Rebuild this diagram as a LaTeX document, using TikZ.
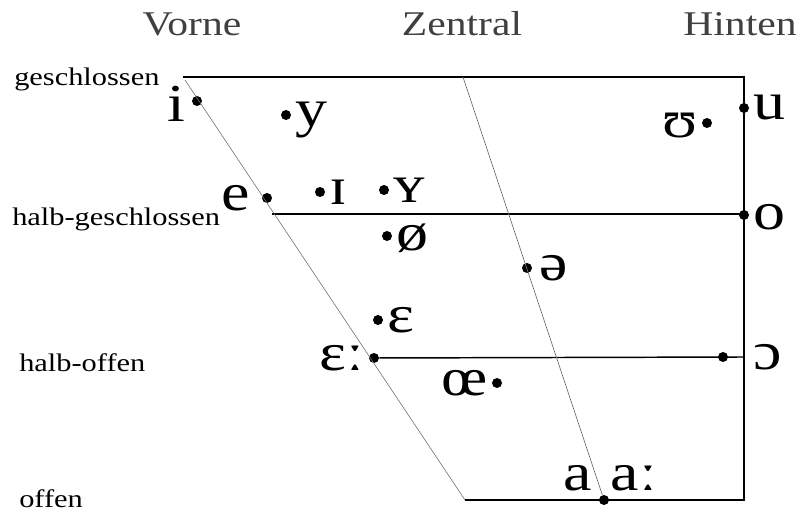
\documentclass[tikz,border=0pt]{standalone}
\usepackage{fontspec}
\setmainfont[FakeStretch=1.2]{Liberation Serif}
\usetikzlibrary{positioning}

\begin{document}
\begin{tikzpicture}[x=0.75pt, y=-0.75pt,
  dot/.style={circle, fill, inner sep=0pt, minimum size=7.5pt},
  vow/.style={font=\fontsize{40}{40}\selectfont, inner sep=0pt},
  col/.style={font=\fontsize{26}{26}\selectfont, text=black!75, anchor=base},
  row/.style={font=\fontsize{19}{19}\selectfont, anchor=base west, inner sep=0pt},
  frame/.style={line width=1.1pt},
  guide/.style={black!55, line width=0.5pt},
  node distance=4pt
]
  \useasboundingbox (0,0) rectangle (800,516);

  % corners of the trapezium
  \coordinate (tl) at (183,77);
  \coordinate (tr) at (744,77);
  \coordinate (dtop) at (185,80);
  \coordinate (bl) at (465,500);
  \coordinate (br) at (744,500);
  \coordinate (ctop) at (463,77);
  \coordinate (hgl) at (272,214);
  \coordinate (hgr) at (744,214);
  \coordinate (hor) at (744,357);

  % column and row headings
  \node[col] (vorne) at (192,36) {Vorne};
  \node[col] (zentral) at (462,36) {Zentral};
  \node[col] (hinten) at (740,36) {Hinten};
  \node[row] (geschl) at (14,86) {geschlossen};
  \node[row] (halbg) at (12,226) {halb-geschlossen};
  \node[row] (halbo) at (19,372) {halb-offen};
  \node[row] (offen) at (19,508) {offen};

  % vowel points
  \node[dot] (pi) at (197,101) {};
  \node[dot] (py) at (286,115) {};
  \node[dot] (pu) at (744,108) {};
  \node[dot] (pU) at (707,123) {};
  \node[dot] (pe) at (267,198) {};
  \node[dot] (pI) at (320,192) {};
  \node[dot] (pY) at (384,190) {};
  \node[dot] (po) at (744,215) {};
  \node[dot] (poe) at (387,236) {};
  \node[dot] (pschwa) at (527,268) {};
  \node[dot] (peps) at (378,320) {};
  \node[dot] (pepsl) at (374,358) {};
  \node[dot] (popen) at (723,357) {};
  \node[dot] (poelig) at (497,383) {};
  \node[dot] (pa) at (604,500) {};

  % frame and guide lines
  \draw[frame] (tl) -- (tr) -- (br) -- (bl);
  \draw[frame] (hgl) -- (hgr);
  \draw[frame] (pepsl) -- (hor);
  \draw[guide] (dtop) -- (bl);
  \draw[guide] (ctop) -- (pa);

  % vowel symbols
  \node[vow, left=5pt of pi, yshift=-2pt] (i) {i};
  \node[vow, right=3pt of py, yshift=-4pt] (y) {y};
  \node[vow, right=3pt of pu] (u) {u};
  \node[vow, left=3pt of pU, yshift=-2pt] (U) {ʊ};
  \node[vow, left=9pt of pe] (e) {e};
  \node[vow, right=3pt of pI] (I) {ɪ};
  \node[vow, right=3pt of pY] (Y) {ʏ};
  \node[vow, right=3pt of po, yshift=-2pt] (o) {o};
  \node[vow, right=3pt of poe, yshift=-2pt] (oe) {ø};
  \node[vow, right=5pt of pschwa] (schwa) {ə};
  \node[vow, right=3pt of peps] (eps) {ɛ};
  \node[vow, left=3pt of pepsl] (epsl) {ɛː};
  \node[vow, right=19pt of popen] (open) {ɔ};
  \node[vow, left=3pt of poelig] (oelig) {œ};
  \node[vow, above left=4pt and 6pt of pa] (a) {a};
  \node[vow, above right=4pt and 2pt of pa] (al) {aː};
\end{tikzpicture}
\end{document}
